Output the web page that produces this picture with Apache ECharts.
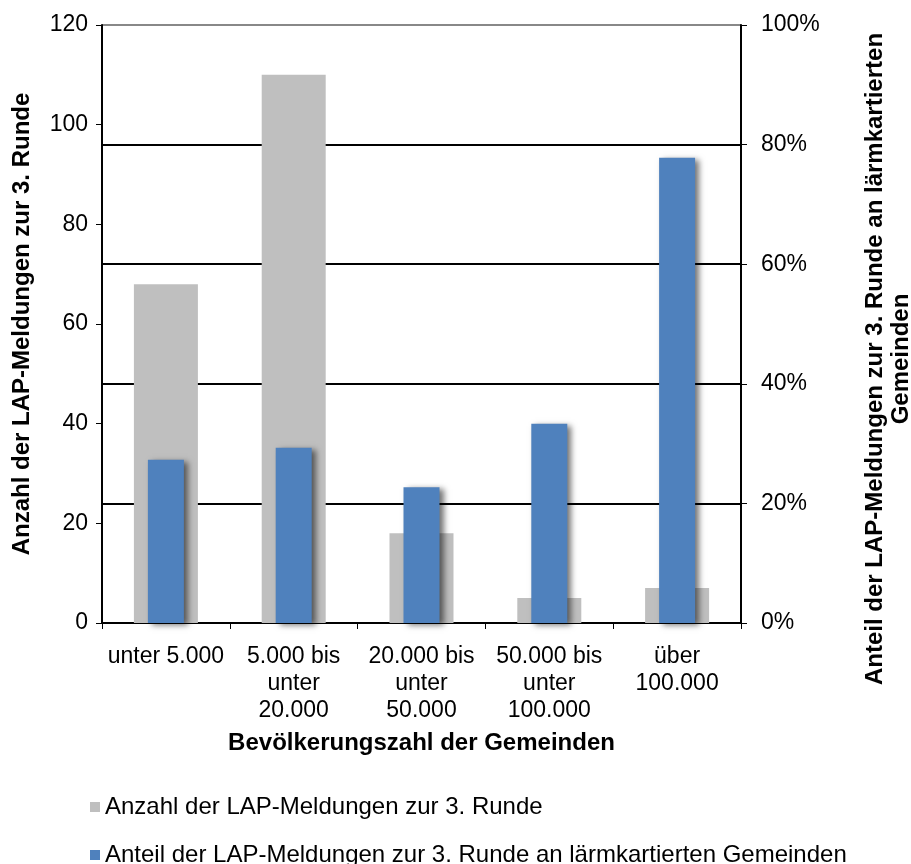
<!DOCTYPE html>
<html>
<head>
<meta charset="utf-8">
<script src="https://cdn.jsdelivr.net/npm/echarts@6/dist/echarts.min.js"></script>
<style>
html, body { margin: 0; padding: 0; background: #fff; }
#main { width: 911px; height: 864px; }
</style>
</head>
<body>
<div id="main"></div>
<script>
// Daten
var kategorien = ['unter 5.000', '5.000 bis\nunter\n20.000', '20.000 bis\nunter\n50.000', '50.000 bis\nunter\n100.000', 'über\n100.000'];
var anzahlName = 'Anzahl der LAP-Meldungen zur 3. Runde';
var anteilName = 'Anteil der LAP-Meldungen zur 3. Runde an lärmkartierten Gemeinden';
var anzahl = [68, 110, 18, 5, 7];
var anteil = [27.3, 29.3, 22.7, 33.3, 77.8];

var font = "'Liberation Sans', Arial, sans-serif";
var fs = 23;

var myChart = echarts.init(document.getElementById('main'));

var legendText = { fontSize: 24, color: '#000', fontFamily: font };

var option = {
    animation: false,
    textStyle: { fontFamily: font },
    grid: { left: 102, right: 170, top: 25, bottom: 241, containLabel: false, outerBoundsMode: 'none' },
    legend: [{
        left: 85, top: 790,
        itemWidth: 10, itemHeight: 10, icon: 'rect',
        textStyle: legendText,
        data: [anzahlName]
    }, {
        left: 85, top: 838,
        itemWidth: 10, itemHeight: 10, icon: 'rect',
        textStyle: legendText,
        data: [anteilName]
    }],
    xAxis: [{
        type: 'category',
        data: kategorien,
        name: 'Bevölkerungszahl der Gemeinden',
        nameLocation: 'middle',
        nameGap: 108,
        nameTextStyle: { fontSize: 24, fontWeight: 'bold', color: '#000' },
        axisLine: { lineStyle: { color: '#000', width: 2 } },
        axisTick: { show: true, length: 6, lineStyle: { color: '#000' } },
        axisLabel: { fontSize: fs, color: '#000', lineHeight: 27, margin: 20, interval: 0 }
    }, {
        type: 'category',
        data: kategorien,
        show: false
    }],
    yAxis: [{
        type: 'value',
        min: 0,
        max: 120,
        interval: 20,
        name: 'Anzahl der LAP-Meldungen zur 3. Runde',
        nameLocation: 'middle',
        nameRotate: 90,
        nameGap: 68,
        nameTextStyle: { fontSize: 24, fontWeight: 'bold', color: '#000' },
        axisLine: { show: true, lineStyle: { color: '#000', width: 2 } },
        axisTick: { show: true, length: 6, lineStyle: { color: '#000' } },
        axisLabel: { fontSize: fs, color: '#000', margin: 14 },
        splitLine: { show: false }
    }, {
        type: 'value',
        min: 0,
        max: 100,
        interval: 20,
        position: 'right',
        name: 'Anteil der LAP-Meldungen zur 3. Runde an lärmkartierten\nGemeinden',
        nameLocation: 'middle',
        nameRotate: 90,
        nameGap: 121,
        nameTextStyle: { fontSize: 24, fontWeight: 'bold', color: '#000', lineHeight: 26, padding: [0, 70, 0, 0] },
        axisLine: { show: true, lineStyle: { color: '#000', width: 2 } },
        axisTick: { show: true, length: 6, lineStyle: { color: '#000' } },
        axisLabel: { fontSize: fs, color: '#000', margin: 20, formatter: '{value}%' },
        splitLine: {
            show: true,
            lineStyle: { color: ['#000', '#000', '#000', '#000', '#000', '#888'], width: 2 }
        }
    }],
    series: [{
        name: anzahlName,
        type: 'bar',
        xAxisIndex: 0,
        yAxisIndex: 0,
        barWidth: 64,
        itemStyle: { color: '#BFBFBF' },
        data: anzahl
    }, {
        name: anteilName,
        type: 'bar',
        xAxisIndex: 1,
        yAxisIndex: 1,
        barWidth: 36,
        itemStyle: {
            color: '#4F81BD',
            shadowColor: 'rgba(0,0,0,0.55)',
            shadowBlur: 6,
            shadowOffsetX: 4,
            shadowOffsetY: 2
        },
        data: anteil
    }]
};

myChart.setOption(option);
</script>
</body>
</html>
